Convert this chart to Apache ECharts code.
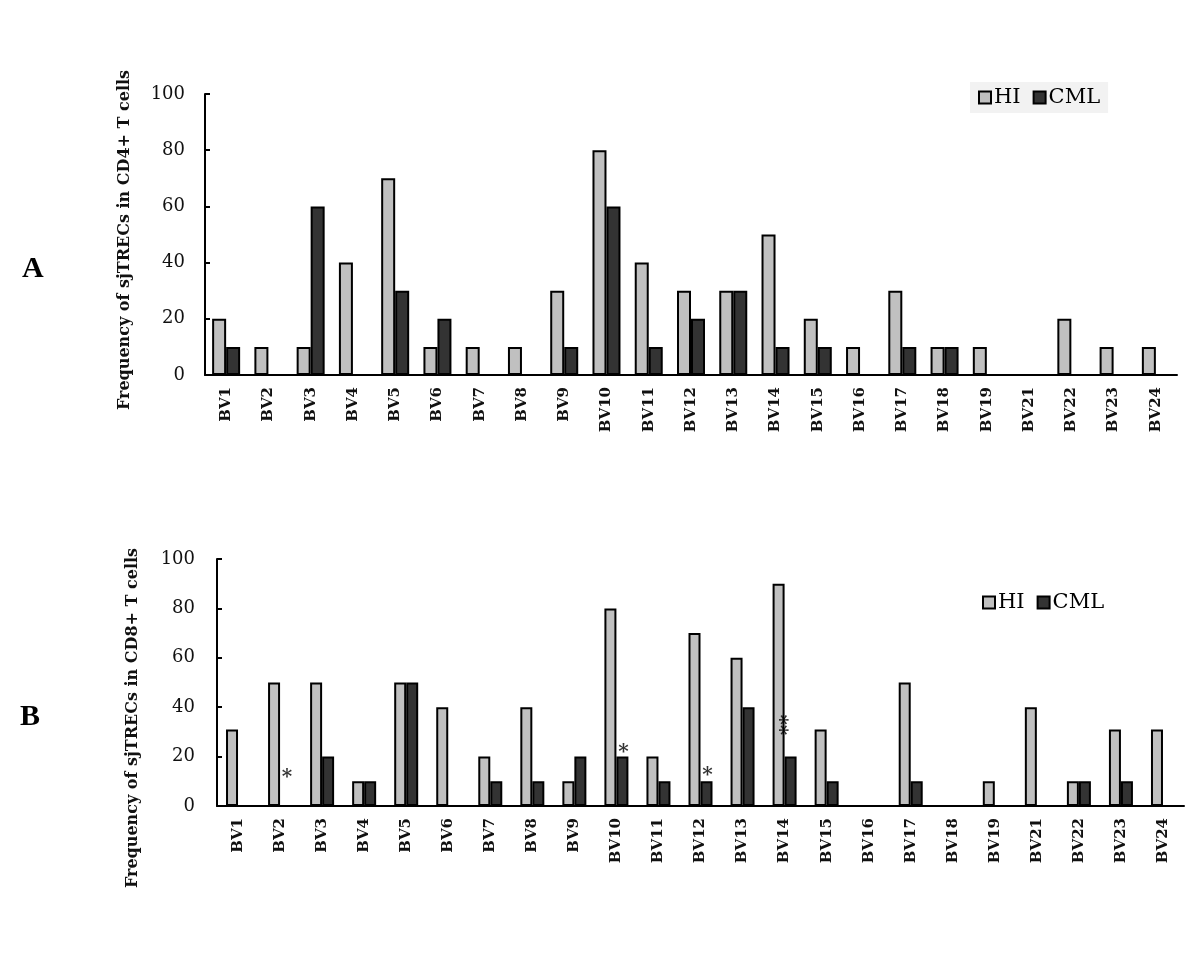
<!DOCTYPE html>
<html>
<head>
<meta charset="utf-8">
<script src="https://cdn.jsdelivr.net/npm/echarts@6/dist/echarts.min.js"></script>
<style>
  html, body { margin: 0; padding: 0; background: #fff; }
  #chart { width: 1200px; height: 975px; }
</style>
</head>
<body>
<div id="chart"></div>
<script>
const categories = ['BV1', 'BV2', 'BV3', 'BV4', 'BV5', 'BV6', 'BV7', 'BV8', 'BV9', 'BV10', 'BV11', 'BV12',
  'BV13', 'BV14', 'BV15', 'BV16', 'BV17', 'BV18', 'BV19', 'BV21', 'BV22', 'BV23', 'BV24'];

// panel A (CD4+)
const hiA = [20, 10, 10, 40, 70, 10, 10, 10, 30, 80, 40, 30, 30, 50, 20, 10, 30, 10, 10, 0, 20, 10, 10];
const cmlA = [10, 0, 60, 0, 30, 20, 0, 0, 10, 60, 10, 20, 30, 10, 10, 0, 10, 10, 0, 0, 0, 0, 0];

// panel B (CD8+)
const hiB = [31, 50, 50, 10, 50, 40, 20, 40, 10, 80, 20, 70, 60, 90, 31, 0, 50, 0, 10, 40, 10, 31, 31];
const cmlB = [0, 0, 20, 10, 50, 0, 10, 10, 20, 20, 10, 10, 40, 20, 10, 0, 10, 0, 0, 0, 10, 10, 0];

// significance marks in panel B: [category, height, text]
const starsB = [['BV2', 13, '*'], ['BV10', 23, '*'], ['BV12', 14, '*'], ['BV14', 30, '**']];

const yTicks = [0, 20, 40, 60, 80, 100];

const FONT = 'DejaVu Serif';
const HI_COLOR = '#c0c0c0';
const CML_COLOR = '#333333';

const chart = echarts.init(document.getElementById('chart'));

function xAxisFor(gridIndex) {
  return {
    type: 'category',
    gridIndex: gridIndex,
    data: categories,
    axisLine: { lineStyle: { color: '#000', width: 2 } },
    axisTick: { show: false },
    axisLabel: {
      interval: 0, rotate: 90, margin: 12,
      fontFamily: FONT, fontSize: 15, fontWeight: 'bold', color: '#111'
    }
  };
}

function yAxisFor(gridIndex, margin) {
  return {
    type: 'value',
    gridIndex: gridIndex,
    min: yTicks[0],
    max: yTicks[yTicks.length - 1],
    interval: 20,
    splitLine: { show: false },
    axisLine: { show: true, lineStyle: { color: '#000', width: 2 } },
    axisTick: { show: true, inside: true, length: 5, lineStyle: { color: '#000', width: 2 } },
    axisLabel: { margin: margin, fontFamily: FONT, fontSize: 18, color: '#111' }
  };
}

function barSeries(name, data, color, idx, width) {
  return {
    name: name,
    type: 'bar',
    xAxisIndex: idx,
    yAxisIndex: idx,
    data: data,
    barWidth: width,
    barGap: '0%',
    itemStyle: { color: color, borderColor: '#000', borderWidth: 2 }
  };
}

const legendStyle = {
  icon: 'rect',
  itemWidth: 12,
  itemHeight: 12,
  itemGap: 12,
  data: ['HI', 'CML'],
  textStyle: { fontFamily: FONT, fontSize: 21, color: '#000', padding: [0, 0, 0, -2] }
};

const option = {
  backgroundColor: '#fff',
  animation: false,
  grid: [
    { left: 205, top: 94, width: 972, height: 281 },
    { left: 217, top: 559, width: 967, height: 247 }
  ],
  legend: [
    Object.assign({ left: 970, top: 82, backgroundColor: '#f2f2f2', padding: [5, 8] }, legendStyle),
    Object.assign({ left: 976, top: 590, padding: [2, 6] }, legendStyle)
  ],
  xAxis: [xAxisFor(0), xAxisFor(1)],
  yAxis: [yAxisFor(0, 20), yAxisFor(1, 22)],
  series: [
    barSeries('HI', hiA, HI_COLOR, 0, 14),
    barSeries('CML', cmlA, CML_COLOR, 0, 14),
    barSeries('HI', hiB, HI_COLOR, 1, 12),
    barSeries('CML', cmlB, CML_COLOR, 1, 12),
    {
      type: 'scatter',
      xAxisIndex: 1,
      yAxisIndex: 1,
      symbolSize: 1,
      itemStyle: { color: 'rgba(0,0,0,0)' },
      data: starsB.map(s => ({
        value: [s[0], s[1]],
        label: {
          show: true,
          formatter: s[2],
          position: 'inside',
          rotate: s[2].length > 1 ? 90 : 0,
          offset: [7, 4],
          fontFamily: FONT,
          fontSize: 20,
          fontWeight: 'bold',
          color: '#000'
        }
      })),
      z: 5
    }
  ],
  graphic: [
    {
      type: 'text', left: 22, top: 254,
      style: { text: 'A', fontFamily: 'Liberation Serif', fontSize: 30, fontWeight: 'bold', fill: '#000' }
    },
    {
      type: 'text', left: 20, top: 702,
      style: { text: 'B', fontFamily: 'Liberation Serif', fontSize: 30, fontWeight: 'bold', fill: '#000' }
    },
    {
      type: 'text', x: 125, y: 240, rotation: Math.PI / 2,
      style: {
        text: 'Frequency of sjTRECs in CD4+ T cells', fontFamily: FONT, fontSize: 16, fontWeight: 'bold',
        fill: '#111', align: 'center', verticalAlign: 'middle'
      }
    },
    {
      type: 'text', x: 133, y: 718, rotation: Math.PI / 2,
      style: {
        text: 'Frequency of sjTRECs in CD8+ T cells', fontFamily: FONT, fontSize: 16, fontWeight: 'bold',
        fill: '#111', align: 'center', verticalAlign: 'middle'
      }
    }
  ]
};

chart.setOption(option);
</script>
</body>
</html>
